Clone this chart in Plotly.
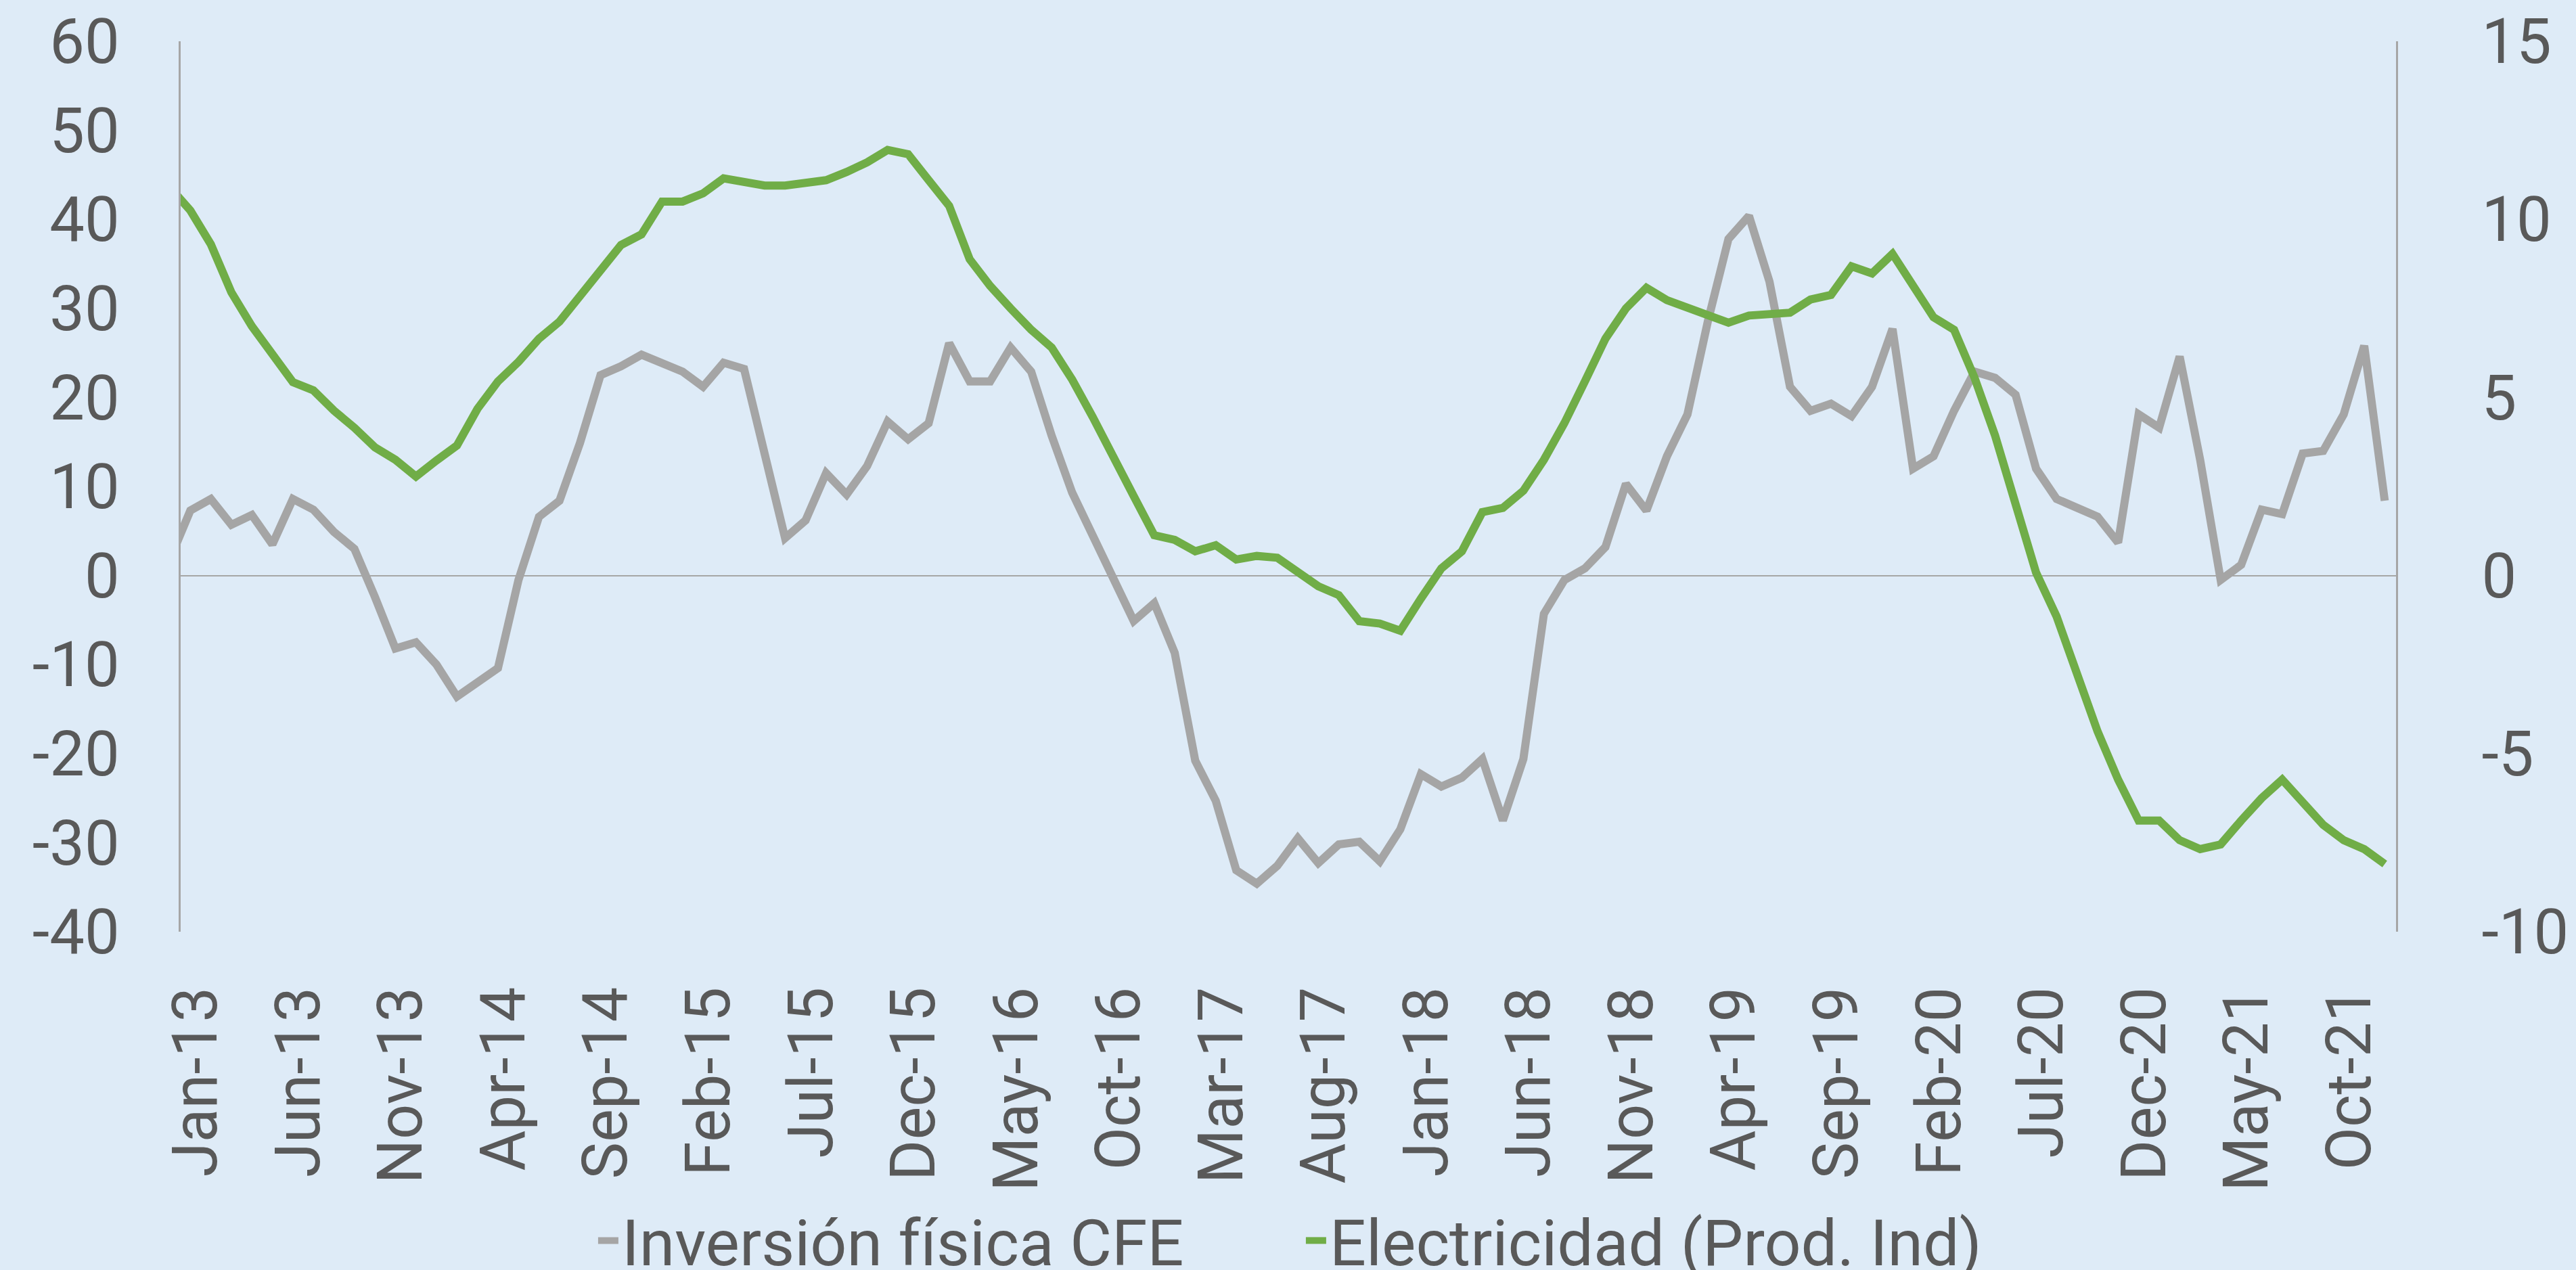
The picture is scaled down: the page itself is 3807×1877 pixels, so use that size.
import pandas as pd
import plotly.graph_objects as go

# ---- data (monthly, Dec-12 .. Dec-21) ----
months = list(pd.date_range("2012-12-01", "2021-12-01", freq="MS").strftime("%b-%y"))

inversion_cfe = [
    1.8, 7.3, 8.6, 5.7, 6.8, 3.5, 8.6, 7.4, 4.9, 3.0,
    -2.4, -8.2, -7.5, -10.0, -13.6, -11.9, -10.4, -0.5, 6.6, 8.4,
    14.9, 22.5, 23.5, 24.8, 23.9, 22.9, 21.2, 23.9, 23.2, 13.7,
    4.2, 6.2, 11.5, 9.1, 12.3, 17.3, 15.3, 17.1, 26.1, 21.8,
    21.8, 25.6, 22.9, 15.7, 9.3, 4.5, -0.2, -5.1, -3.1, -8.7,
    -20.8, -25.3, -33.1, -34.6, -32.6, -29.5, -32.3, -30.2, -29.9, -32.1,
    -28.5, -22.3, -23.7, -22.7, -20.6, -27.5, -20.6, -4.3, -0.5, 0.8,
    3.2, 10.3, 7.3, 13.4, 18.1, 28.6, 37.8, 40.4, 33.0, 21.2,
    18.5, 19.3, 17.9, 21.2, 27.7, 12.0, 13.4, 18.5, 22.9, 22.2,
    20.3, 12.0, 8.6, 7.7, 6.6, 3.7, 18.1, 16.6, 24.6, 13.0,
    -0.5, 1.2, 7.4, 6.9, 13.7, 14.0, 18.1, 25.8, 8.4,
]

electricidad = [
    10.9, 10.25, 9.3, 7.95, 7.0, 6.18, 5.43, 5.2, 4.63, 4.15,
    3.6, 3.25, 2.78, 3.23, 3.65, 4.68, 5.45, 6.0, 6.65, 7.13,
    7.83, 8.6, 9.28, 9.58, 10.5, 10.5, 10.73, 11.15, 11.05, 10.95,
    10.95, 11.03, 11.1, 11.33, 11.6, 11.95, 11.83, 11.1, 10.38, 8.88,
    8.13, 7.5, 6.9, 6.4, 5.5, 4.45, 3.3, 2.23, 1.13, 1.0,
    0.68, 0.85, 0.45, 0.55, 0.5, 0.13, -0.3, -0.55, -1.28, -1.35,
    -1.55, -0.65, 0.2, 0.68, 1.78, 1.9, 2.38, 3.25, 4.28, 5.45,
    6.65, 7.5, 8.08, 7.73, 7.5, 7.3, 7.1, 7.3, 7.33, 7.38,
    7.75, 7.88, 8.68, 8.48, 9.03, 8.15, 7.25, 6.9, 5.55, 3.93,
    1.98, 0.08, -1.15, -2.78, -4.38, -5.73, -6.88, -6.88, -7.43, -7.68,
    -7.55, -6.88, -6.25, -5.73, -6.4, -7.0, -7.43, -7.68, -8.1,
]

x_tick_labels = ["Jan-13", "Jun-13", "Nov-13", "Apr-14", "Sep-14", "Feb-15", "Jul-15",
                 "Dec-15", "May-16", "Oct-16", "Mar-17", "Aug-17", "Jan-18", "Jun-18",
                 "Nov-18", "Apr-19", "Sep-19", "Feb-20", "Jul-20", "Dec-20", "May-21",
                 "Oct-21"]
y_left_ticks = [60, 50, 40, 30, 20, 10, 0, -10, -20, -30, -40]
y_right_ticks = [15, 10, 5, 0, -5, -10]

# ---- styling ----
BG = "#DEEBF7"
TXT = "#595959"
AXC = "#A6A6A6"
FONT = "Roboto"
FS = 92
LABEL_SHIFT = 0.3

x = list(range(len(months)))
tickvals = [months.index(t) + LABEL_SHIFT for t in x_tick_labels]

fig = go.Figure()
fig.add_trace(go.Scatter(
    x=x, y=inversion_cfe, name="Inversión física CFE", mode="lines",
    line=dict(color="#A5A5A5", width=12), yaxis="y",
))
fig.add_trace(go.Scatter(
    x=x, y=electricidad, name="Electricidad (Prod. Ind)", mode="lines",
    line=dict(color="#70AD47", width=12), yaxis="y2",
))

fig.update_layout(
    width=3807, height=1877,
    paper_bgcolor=BG, plot_bgcolor=BG,
    margin=dict(l=267, r=266, t=61, b=500, autoexpand=False),
    font=dict(family=FONT, size=FS, color=TXT),
    showlegend=True,
    legend=dict(orientation="h", x=0.1869, xanchor="left", y=-0.347, yanchor="middle",
                font=dict(size=95, color=TXT), bgcolor="rgba(0,0,0,0)",
                itemwidth=30, entrywidth=1001, entrywidthmode="pixels",
                tracegroupgap=0),
    xaxis=dict(
        range=[0.528, 108.55], tickmode="array", tickvals=tickvals, ticktext=x_tick_labels,
        tickangle=-90, showgrid=False, zeroline=False, showline=False,
        ticks="outside", ticklen=44, tickcolor="rgba(0,0,0,0)",
        tickfont=dict(size=FS, color=TXT, family=FONT), automargin=False,
    ),
    yaxis=dict(
        range=[-40, 60], tickmode="array", tickvals=y_left_ticks,
        ticktext=[str(v) for v in y_left_ticks],
        showgrid=False, zeroline=True, zerolinecolor=AXC, zerolinewidth=2,
        showline=True, linecolor=AXC, linewidth=3,
        ticks="outside", ticklen=69, tickcolor="rgba(0,0,0,0)",
        tickfont=dict(size=FS, color=TXT, family=FONT), automargin=False,
    ),
    yaxis2=dict(
        range=[-10, 15], tickmode="array", tickvals=y_right_ticks,
        ticktext=[str(v) for v in y_right_ticks],
        overlaying="y", side="right", anchor="x",
        showgrid=False, zeroline=False,
        showline=True, linecolor=AXC, linewidth=3,
        ticks="outside", ticklen=105, tickcolor="rgba(0,0,0,0)",
        tickfont=dict(size=FS, color=TXT, family=FONT), automargin=False,
    ),
)

fig.write_html("out.html", config={"displayModeBar": False},
               post_script="document.body.style.margin='0';document.body.style.overflow='hidden';")
